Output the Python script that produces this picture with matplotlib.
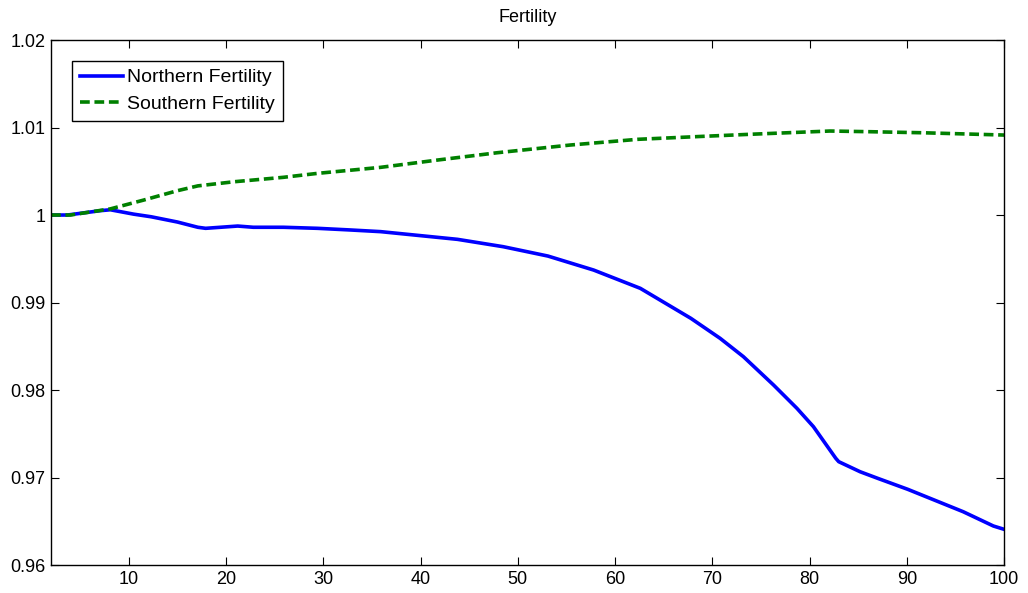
import numpy as np
import matplotlib.pyplot as plt

plt.rcParams['font.family'] = ['Liberation Sans', 'DejaVu Sans']

# valores
x_north = [2, 3.7, 7.1, 8.1, 10.5, 12.3, 15, 17.1, 17.9, 21.2, 22.8, 25.9, 29.4,
           32.8, 35.9, 43.8, 48.5, 53.1, 57.8, 62.6, 67.8, 70.8, 73.2, 76.3,
           78.7, 80.4, 82.7, 83, 85.2, 87, 90.1, 95.8, 98.9, 100]
y_north = [1.0, 1.0, 1.0005, 1.0006, 1.0001, 0.9998, 0.9992, 0.9986, 0.99848,
           0.99874, 0.9986, 0.9986, 0.99848, 0.99829, 0.9981, 0.99722, 0.99638,
           0.99531, 0.99371, 0.99162, 0.98819, 0.98591, 0.98381, 0.98057,
           0.97791, 0.97581, 0.97219, 0.97181, 0.97066, 0.96991, 0.96865,
           0.96609, 0.96446, 0.96408]

x_south = [2, 4, 8.1, 11.5, 15, 17.1, 20.8, 25.9, 29.4, 35.9, 41.8, 47.9, 55.4,
           62.3, 68.8, 74.6, 82.1, 86.3, 91.7, 96.2, 100]
y_south = [1.0, 1.0, 1.0007, 1.0017, 1.00278, 1.00333, 1.0038, 1.00431, 1.00476,
           1.00545, 1.00629, 1.00712, 1.0080, 1.00865, 1.00898, 1.00926, 1.0096,
           1.00952, 1.0094, 1.00926, 1.00914]

fig = plt.figure(figsize=(10.28, 5.93), dpi=100)
ax = fig.add_axes([0.0496, 0.0472, 0.9271, 0.8853])

ax.plot(x_north, y_north, color='#0000ff', lw=2.6, label='Northern Fertility')
ax.plot(x_south, y_south, color='#008000', lw=2.6, ls=(0, (2.7, 1.3)),
        label='Southern Fertility')

ax.set_xlim(2, 100)
ax.set_ylim(0.96, 1.02)
ax.set_xticks(np.arange(10, 101, 10))
ax.set_yticks([0.96, 0.97, 0.98, 0.99, 1.0, 1.01, 1.02])
ax.set_yticklabels(['0.96', '0.97', '0.98', '0.99', '1', '1.01', '1.02'])
ax.tick_params(direction='in', top=True, right=True, labelsize=13, length=6, pad=4)
for s in ax.spines.values():
    s.set_linewidth(1.0)

ax.set_title('Fertility', fontsize=13, pad=13)

leg = ax.legend(loc='upper left', bbox_to_anchor=(0.022, 0.96), fontsize=14,
                fancybox=False, framealpha=1, edgecolor='black',
                handlelength=2.2, handletextpad=0.25, borderpad=0.4,
                labelspacing=0.45, borderaxespad=0)
leg.get_frame().set_linewidth(1.0)

fig.savefig('out.png', dpi=100)
